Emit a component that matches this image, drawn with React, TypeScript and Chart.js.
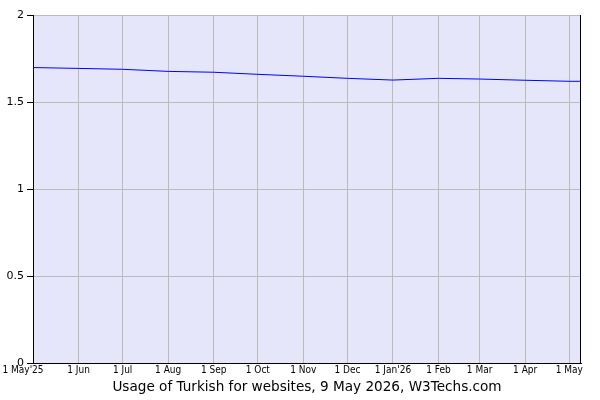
import React, { useEffect, useRef } from "react";
import { Chart, registerables } from "chart.js";

Chart.register(...registerables);

// Days since 1 May 2025
const pointDays = [0, 31, 61, 92, 123, 153, 184, 214, 245, 276, 304, 335, 365, 373];
const usageValues = [1.698, 1.693, 1.688, 1.676, 1.671, 1.659, 1.648, 1.636, 1.626, 1.636, 1.632, 1.625, 1.619, 1.619];

const tickDays = [0, 31, 61, 92, 123, 153, 184, 214, 245, 276, 304, 335, 365];
const tickLabels = ["1 May'25", "1 Jun", "1 Jul", "1 Aug", "1 Sep", "1 Oct", "1 Nov", "1 Dec", "1 Jan'26", "1 Feb", "1 Mar", "1 Apr", "1 May"];

const yTicks = [0, 0.5, 1, 1.5, 2];
const titleText = "Usage of Turkish for websites, 9 May 2026, W3Techs.com";

export default function App() {
  const ref = useRef<HTMLCanvasElement | null>(null);

  useEffect(() => {
    document.body.style.margin = "0";
    const canvas = ref.current;
    if (!canvas) return;

    const areaPlugin = {
      id: "areaBg",
      beforeDraw(chart: any) {
        const { ctx, chartArea } = chart;
        ctx.save();
        ctx.fillStyle = "#e6e6fa";
        ctx.fillRect(chartArea.left, chartArea.top, chartArea.right - chartArea.left, chartArea.bottom - chartArea.top);
        ctx.restore();
      },
      afterDraw(chart: any) {
        const { ctx, chartArea } = chart;
        ctx.save();
        ctx.strokeStyle = "#000";
        ctx.lineWidth = 1;
        ctx.beginPath();
        const x = Math.round(chartArea.right) - 0.5;
        ctx.moveTo(x, chartArea.top);
        ctx.lineTo(x, chartArea.bottom);
        ctx.stroke();
        ctx.restore();
      },
    };

    const chart = new Chart(canvas, {
      type: "line",
      data: {
        datasets: [
          {
            data: pointDays.map((d, i) => ({ x: d, y: usageValues[i] })),
            borderColor: "#0000ff",
            borderWidth: 1,
            pointRadius: 0,
            tension: 0,
            fill: false,
          },
        ],
      },
      options: {
        animation: false,
        responsive: false,
        events: [],
        layout: { padding: { top: 15, right: 19, left: 0, bottom: 0 } },
        plugins: { legend: { display: false }, tooltip: { enabled: false }, title: { display: false } },
        scales: {
          x: {
            type: "linear",
            min: 0,
            max: 373,
            afterBuildTicks(scale: any) {
              scale.ticks = tickDays.map((v) => ({ value: v }));
            },
            afterFit(scale: any) {
              scale.height = 37;
            },
            ticks: {
              autoSkip: false,
              maxRotation: 0,
              padding: 1,
              color: "#000",
              font: { family: "'DejaVu Sans Condensed', 'DejaVu Sans', sans-serif", size: 10 },
              callback: (v: any) => {
                const i = tickDays.indexOf(Number(v));
                if (i < 0) return "";
                return i === 0 ? tickLabels[i] + "       " : tickLabels[i];
              },
            },
            grid: {
              color: (c: any) => (c.tick && c.tick.value === 0 ? "rgba(0,0,0,0)" : "#bbbbbb"),
              drawTicks: false,
              lineWidth: 1,
            },
            border: { color: "#000", width: 1 },
            title: {
              display: true,
              text: titleText,
              color: "#000",
              font: { family: "'DejaVu Sans', sans-serif", size: 13.6 },
              padding: { top: 2, bottom: 4 },
            },
          },
          y: {
            min: 0,
            max: 2,
            afterBuildTicks(scale: any) {
              scale.ticks = yTicks.map((v) => ({ value: v }));
            },
            afterFit(scale: any) {
              scale.width = 33;
            },
            ticks: {
              padding: 3,
              color: "#000",
              font: { family: "'DejaVu Sans', sans-serif", size: 11 },
              callback: (v: any) => String(v),
            },
            grid: {
              color: "#bbbbbb",
              tickColor: "#000",
              tickLength: 6,
              lineWidth: 1,
            },
            border: { color: "#000", width: 1 },
          },
        },
      },
      plugins: [areaPlugin],
    });

    return () => chart.destroy();
  }, []);

  return <canvas ref={ref} width={600} height={400} style={{ display: "block", width: 600, height: 400 }} />;
}
